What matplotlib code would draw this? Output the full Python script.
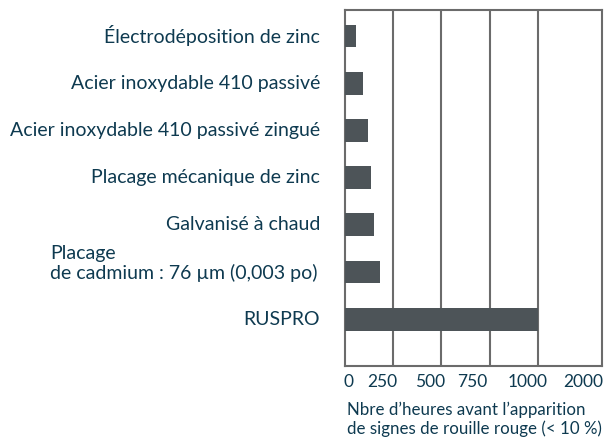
import matplotlib
matplotlib.use("Agg")
import matplotlib.pyplot as plt
from matplotlib.scale import FuncScale
from matplotlib.transforms import ScaledTranslation
import numpy as np

categories = [
    "Électrodéposition de zinc",
    "Acier inoxydable 410 passivé",
    "Acier inoxydable 410 passivé zingué",
    "Placage mécanique de zinc",
    "Galvanisé à chaud",
    "Placage\nde cadmium : 76 µm (0,003 po)",
    "RUSPRO",
]
hours = [55, 92, 117, 133, 149, 180, 1000]
tick_values = [0, 250, 500, 750, 1000, 2000]
tick_labels = ["0", "250", "500", "750", "1000", "2000"]
xlabel = "Nbre d’heures avant l’apparition\nde signes de rouille rouge (< 10 %)"

plt.rcParams['font.family'] = ['Lato', 'DejaVu Sans']
text_color = "#0e3a50"
bar_color = "#4d5458"
grid_color = "#6b6b6b"

def fwd(x):
    x = np.asarray(x, dtype=float)
    return np.where(x <= 1000, x, 1000 + (x - 1000) * 0.332)

def inv(y):
    y = np.asarray(y, dtype=float)
    return np.where(y <= 1000, y, 1000 + (y - 1000) / 0.332)

fig = plt.figure(figsize=(6.08, 4.38), dpi=100)
ax = fig.add_axes([345/608, 1 - 366/438, 257/608, 356/438])
ax.set_xscale(FuncScale(ax.xaxis, (fwd, inv)))

y = np.arange(len(categories))
ax.barh(y, hours, height=0.48, color=bar_color, zorder=3)
ax.set_xlim(0, 2000)
ax.set_ylim(6.99, -0.55)

ax.set_xticks(tick_values)
ax.set_xticklabels(tick_labels, color=text_color, fontsize=12.5)
ax.tick_params(axis='x', length=0, pad=6)
# tick labels in the reference sit slightly left of their gridlines
label_shift_px = [3, -11, -11, -17, -10, -19]
for lab, dx in zip(ax.get_xticklabels(), label_shift_px):
    lab.set_transform(lab.get_transform() + ScaledTranslation(dx / 100, 0, fig.dpi_scale_trans))
ax.set_yticks([])
for v in tick_values[1:-1]:
    ax.axvline(v, color=grid_color, lw=1.5, zorder=2)
for s in ax.spines.values():
    s.set_color(grid_color)
    s.set_linewidth(1.5)

for i, c in enumerate(categories):
    if "\n" in c:
        ax.annotate(c, xy=(0, i), xycoords=('axes fraction', 'data'),
                    xytext=(-27, -10), textcoords='offset pixels',
                    ha='right', va='bottom', multialignment='left',
                    color=text_color, fontsize=14, linespacing=1.1)
    else:
        ax.annotate(c, xy=(0, i), xycoords=('axes fraction', 'data'),
                    xytext=(-25, 0), textcoords='offset pixels',
                    ha='right', va='center', color=text_color, fontsize=14)

fig.text(347/608, 1 - 402/438, xlabel, ha='left', va='top', color=text_color,
         fontsize=12.2, linespacing=1.15)

fig.savefig("out.png", dpi=100)
